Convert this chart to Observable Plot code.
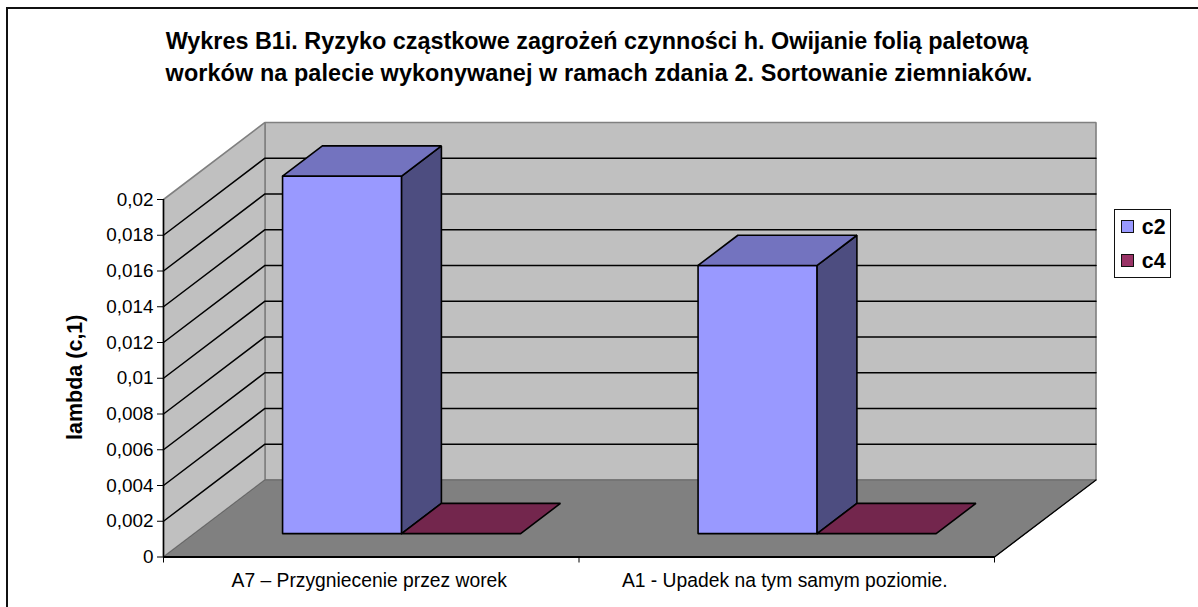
<!DOCTYPE html>
<html><head><meta charset="utf-8">
<script src="https://cdn.jsdelivr.net/npm/d3@7"></script>
<script src="https://cdn.jsdelivr.net/npm/@observablehq/plot@0.6"></script>
<style>
html,body{margin:0;padding:0;background:#fff;width:1198px;height:607px;overflow:hidden}
#wrap{position:relative;width:1198px;height:607px;font-family:"Liberation Sans",Arial,sans-serif}
#wrap svg{position:absolute;left:0;top:0;background:transparent;font-family:"Liberation Sans",Arial,sans-serif}
#frame{position:absolute;left:6px;top:7px;right:0;bottom:0;border-top:2px solid #111;border-left:2px solid #111}
#title{position:absolute;left:0;top:26px;width:1198px;text-align:center;font-weight:bold;font-size:23.4px;line-height:31.5px;color:#000;white-space:pre}
#title div:nth-child(1){transform:translateX(-2px)}
#title div:nth-child(2){letter-spacing:0.1px}
#legend{position:absolute;left:1114px;top:209px;width:54.5px;height:66.5px;border:1.5px solid #111;background:#fff}
.li{position:absolute;left:5.5px;font-weight:bold;font-size:21.3px;line-height:20px;padding-left:21.3px;color:#000}
.sw{position:absolute;left:0;top:3.1px;width:11.4px;height:11px;border:1.3px solid #111}
</style></head><body>
<div id="wrap">
<div id="frame"></div>
<div id="title"></div>
<div id="chart"></div>
<div id="legend"></div>
</div>
<script>
const titleLines = ["Wykres B1i. Ryzyko cząstkowe zagrożeń czynności h. Owijanie folią paletową",
                    "worków na palecie wykonywanej w ramach zdania 2. Sortowanie ziemniaków."];
const categories = ["A7 – Przygniecenie przez worek", "A1 - Upadek na tym samym poziomie."];
const seriesNames = ["c2", "c4"];
const c2Values = [0.02, 0.015];
const c4Values = [0, 0];
const yTicks = [0, 0.002, 0.004, 0.006, 0.008, 0.01, 0.012, 0.014, 0.016, 0.018, 0.02];
const yTickLabels = ["0", "0,002", "0,004", "0,006", "0,008", "0,01", "0,012", "0,014", "0,016", "0,018", "0,02"];
const yTitle = "lambda (c,1)";
const frontColors = ["#9999FF", "#993366"];
const topColors = ["#7373BF", "#73264D"];
const sideColors = ["#4D4D80", "#4D1A33"];

// Oblique projection of the Excel 3-D box, expressed in data units
const yMax = 0.02, nCat = categories.length;
const skewX = 0.2443, skewY = 0.00431;      // shift for full depth
const zNear = 0.304, zFar = 0.696;          // bar depth extent
const gap = 0.2123, barW = 0.2865;          // in category units
const P = (x, y, z, face) => ({x: x + z * skewX, y: y + z * skewY, face});

const poly = (face, pts) => pts.map(([x, y, z]) => P(x, y, z, face));
const backWall = poly("back", [[0,0,1],[nCat,0,1],[nCat,yMax,1],[0,yMax,1],[0,0,1]]);
const sideWall = poly("side", [[0,0,0],[0,0,1],[0,yMax,1],[0,yMax,0],[0,0,0]]);
const floor = poly("floor", [[0,0,0],[nCat,0,0],[nCat,0,1],[0,0,1],[0,0,0]]);

const gridLines = yTicks.slice(1, -1).flatMap((v, i) =>
  poly("g" + i, [[0,v,0],[0,v,1],[nCat,v,1]]));

const fill = (data, color, stroke, sw) => Plot.line(data, {x: "x", y: "y", z: "face", fill: color, stroke, strokeWidth: sw, curve: "linear", strokeLinejoin: "miter"});

const barMarks = [];
categories.forEach((_, c) => {
  [c2Values, c4Values].forEach((vals, s) => {
    const x0 = c + gap + s * barW, x1 = x0 + barW, v = vals[c];
    const id = `${c}-${s}`;
    if (v > 0) {
      barMarks.push(fill(poly("f"+id, [[x0,0,zNear],[x1,0,zNear],[x1,v,zNear],[x0,v,zNear],[x0,0,zNear]]), frontColors[s], "#000", 1.6));
      barMarks.push(fill(poly("s"+id, [[x1,0,zNear],[x1,0,zFar],[x1,v,zFar],[x1,v,zNear],[x1,0,zNear]]), sideColors[s], "#000", 1.6));
    }
    barMarks.push(fill(poly("t"+id, [[x0,v,zNear],[x1,v,zNear],[x1,v,zFar],[x0,v,zFar],[x0,v,zNear]]), topColors[s], "#000", 1.6));
  });
});

const chart = Plot.plot({
  width: 1198, height: 607,
  marginTop: 199, marginBottom: 50.5, marginLeft: 163, marginRight: 204,
  style: {background: "transparent", fontFamily: "Liberation Sans, Arial, sans-serif", overflow: "visible"},
  x: {type: "linear", domain: [0, nCat], axis: null},
  y: {type: "linear", domain: [0, yMax], axis: null},
  marks: [
    fill(backWall, "#C0C0C0", "#808080", 1.6),
    fill(sideWall, "#C0C0C0", "#808080", 1.6),
    Plot.line(gridLines, {x: "x", y: "y", z: "face", stroke: "#000", strokeWidth: 1.5}),
    fill(floor, "#808080", "#666", 1),
    Plot.line(poly("edge", [[nCat,0,0],[nCat,0,1]]), {x: "x", y: "y", stroke: "#000", strokeWidth: 1.3}),
    ...barMarks,
    Plot.ruleX([0], {y1: 0, y2: yMax, stroke: "#000", strokeWidth: 1.5}),
    Plot.ruleY([0], {x1: 0, x2: nCat, stroke: "#000", strokeWidth: 2}),
    Plot.axisY({ticks: yTicks, label: null, tickSize: 6, tickPadding: 4, fontSize: 18.9, stroke: "#000", fill: "#000", tickFormat: d => yTickLabels[yTicks.findIndex(t => Math.abs(t - d) < 1e-9)]}),
    Plot.axisX({ticks: d3.range(nCat + 1), label: null, tickSize: 6, stroke: "#000", tickFormat: () => ""}),
    Plot.text(categories, {x: (d, i) => i + 0.5, y: (d, i) => 0, dx: -2, dy: 23.5, text: d => d, fontSize: 19.3, fill: "#000"}),
    Plot.text([yTitle], {frameAnchor: "left", dx: -88, dy: -1, rotate: -90, textAnchor: "middle", fontSize: 21.5, fontWeight: "bold", fill: "#000"})
  ]
});
document.getElementById("chart").appendChild(chart);
const ttl = document.getElementById("title");
titleLines.forEach(t => { const d = document.createElement("div"); d.textContent = t; ttl.appendChild(d); });
const leg = document.getElementById("legend");
seriesNames.forEach((n, i) => {
  const d = document.createElement("div");
  d.className = "li"; d.style.top = (7.1 + i * 34.3) + "px"; d.textContent = n;
  const s = document.createElement("div");
  s.className = "sw"; s.style.background = frontColors[i];
  d.appendChild(s); leg.appendChild(d);
});
</script>
</body></html>
